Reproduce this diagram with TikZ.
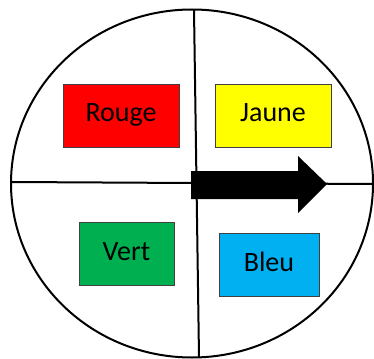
\documentclass[tikz,border=0pt]{standalone}
\usepackage{fontspec}
\setmainfont{Carlito}
\usepackage{tikz}
\definecolor{rouge}{HTML}{FF0000}
\definecolor{jaune}{HTML}{FFFF00}
\definecolor{vert}{HTML}{00B050}
\definecolor{bleu}{HTML}{00B0F0}
\def\trait{\draw[line width=2pt]}

\begin{document}
\begin{tikzpicture}[x=1pt,y=-1pt,
    case/.style={draw=black!75,line width=0.8pt,inner sep=0pt,minimum height=63pt,
                 text height=19pt,text depth=6pt,font=\fontsize{28}{30}\selectfont}]
                \useasboundingbox (0,0) rectangle (374,358);
                \trait (192,183.5) ellipse [x radius=181,y radius=174];
                \trait (194,10) -- (199,357);
                \trait (12,182) -- (373,184);
                \node[case,fill=rouge,minimum width=116pt] (rouge) at (121,115.5) {Rouge};
                \node[case,fill=jaune,minimum width=116pt] (jaune) at (273,115.5) {Jaune};
                \node[case,fill=vert,minimum width=95pt]  (vert)  at (126.5,253.5) {Vert};
                \node[case,fill=bleu,minimum width=100pt] (bleu)  at (269,264.5) {Bleu};
                \fill (191,171) -- (298,171) -- (298,156) -- (327,184)
                      -- (298,213) -- (298,199) -- (191,199) -- cycle;
            \end{tikzpicture}
\end{document}
